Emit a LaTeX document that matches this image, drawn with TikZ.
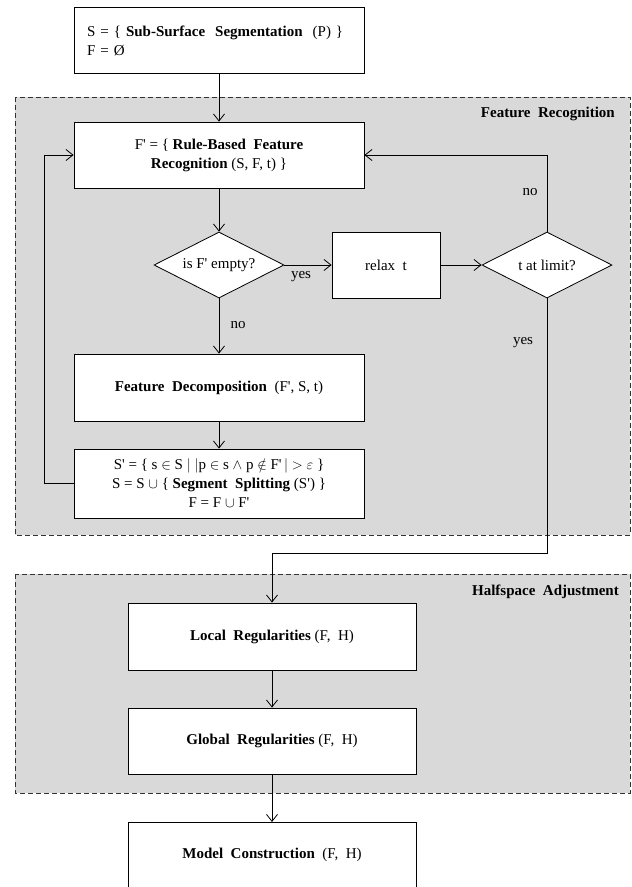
\documentclass[tikz,border=0pt]{standalone}
\usepackage{fontspec}
\setmainfont{Liberation Serif}[Ligatures=TeXOff]
\usetikzlibrary{arrows.meta,shapes.geometric}
\definecolor{regiongray}{HTML}{D9D9D9}
\begin{document}
\begin{tikzpicture}[x=1pt,y=-1pt,
  every node/.style={font=\fontsize{15}{19}\selectfont},
  box/.style={draw=black,fill=white,line width=0.8pt,inner sep=0pt,minimum width=290pt,minimum height=66pt,align=center},
  dia/.style={draw=black,fill=white,line width=0.8pt,diamond,aspect=1.97,inner sep=0pt,minimum width=130pt,minimum height=66pt},
  region/.style={draw=black!80,fill=regiongray,dash pattern=on 5pt off 3pt,line width=0.8pt},
  conn/.style={draw=black,line width=0.8pt,-{Straight Barb[length=7pt,width=11pt]}},
  lbl/.style={inner sep=0pt},
  rlabel/.style={inner sep=0pt,anchor=east,font=\fontsize{15}{19}\selectfont\bfseries}
]
\useasboundingbox (0,0) rectangle (632,887);
% regions
\path[region] (15,97) rectangle (630,535);
\path[region] (15,574) rectangle (630,793);
\node[rlabel] (frl) at (615,114) {Feature\ \ Recognition};
\node[rlabel] (hal) at (619,592) {Halfspace\ \ Adjustment};
% nodes
\node[box,minimum height=66pt,text width=264pt,align=left] (top) at (219,40.5)
  {S = \{ \textbf{Sub-Surface\ \ Segmentation}\ \ (P) \}\\F = Ø};
\node[box] (rule) at (219,155) {F' = \{ \textbf{Rule-Based\ \ Feature}\\ \textbf{Recognition}\ (S, F, t) \}};
\node[dia] (d1) at (219,265) {is F' empty?};
\node[box,minimum width=108pt] (relax) at (386,265) {relax\ \ t};
\node[dia] (d2) at (547,265) {t at limit?};
\node[box,minimum height=67pt] (decomp) at (219,387.5) {\textbf{Feature\ \ Decomposition}\ \ (F', S, t)};
\node[box,minimum height=69pt] (split) at (219,483.5)
  {S' = \{ s $\in$ S $|$ $|$p $\in$ s $\wedge$ p $\notin$ F'\,$|$ $>$ $\varepsilon$ \}\\
   S = S $\cup$ \{ \textbf{Segment\ \ Splitting} (S') \}\\
   F = F $\cup$ F'};
\node[box,minimum width=288pt,minimum height=67pt] (local) at (272,636.5) {\textbf{Local\ \ Regularities} (F,\ \ H)};
\node[box,minimum width=288pt,minimum height=66pt] (global) at (272,741) {\textbf{Global\ \ Regularities} (F,\ \ H)};
\node[box,minimum width=288pt,minimum height=70pt,anchor=north] (model) at (272,822) {};
\node[lbl] (modeltxt) at (272,855) {\textbf{Model\ \ Construction}\ \ (F,\ \ H)};
\path[draw=white,line width=1.2pt] (120,888) -- (425,888);
% connectors
\draw[conn] (top.south) -- (rule.north);
\draw[conn] (rule.south) -- (d1.north);
\draw[conn] (d1.east) -- (relax.west);
\node[lbl] (yes1) at (301,277) {yes};
\draw[conn] (relax.east) -- (d2.west);
\draw[conn] (d2.north) |- (rule.east);
\node[lbl] (no2) at (530,192) {no};
\draw[conn] (d1.south) -- (decomp.north);
\node[lbl] (no1) at (238,325) {no};
\draw[conn] (decomp.south) -- (split.north);
\coordinate (loopc) at (44,483.5);
\draw[conn] (split.west) -- (loopc) |- (rule.west);
\coordinate (turn) at (547,553);
\draw[conn] (d2.south) -- (turn) -| (local.north);
\node[lbl] (yes2) at (523,343) {yes};
\draw[conn] (local.south) -- (global.north);
\draw[conn] (global.south) -- (model.north);
\end{tikzpicture}
\end{document}
